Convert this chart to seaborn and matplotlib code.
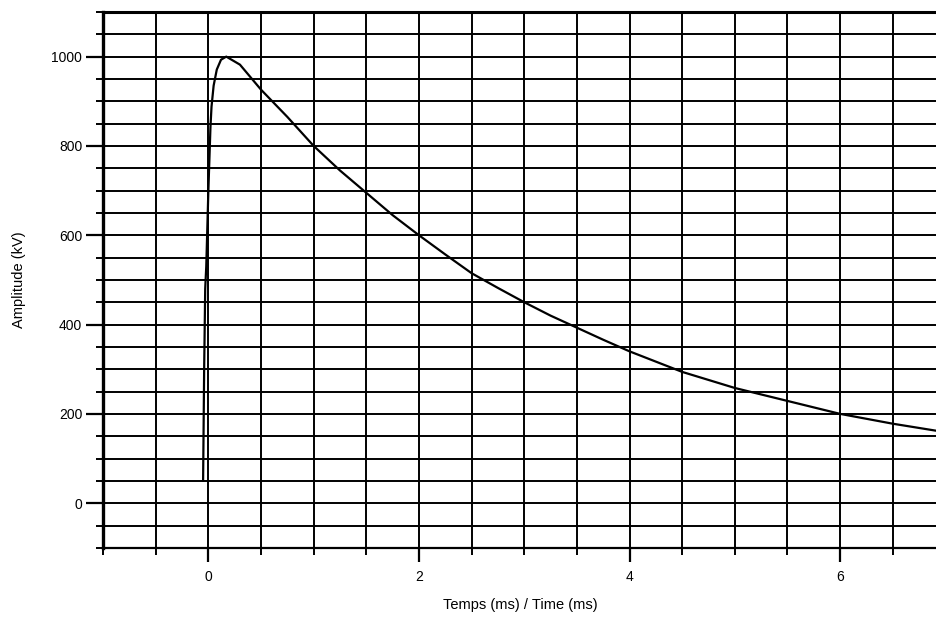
import numpy as np
import pandas as pd
import matplotlib
matplotlib.use("Agg")
import matplotlib.pyplot as plt
from matplotlib.ticker import MultipleLocator, FixedLocator
import seaborn as sns

# Impulse waveform
time_ms = [-0.05, -0.04, -0.03, -0.02, 0.0, 0.02, 0.03, 0.05, 0.08, 0.12, 0.17,
           0.3, 0.5, 0.75, 1.0, 1.25, 1.5, 1.75, 2.0, 2.25, 2.5, 2.75, 3.0,
           3.25, 3.5, 3.75, 4.0, 4.5, 5.0, 5.5, 6.0, 6.5, 6.92]
amplitude_kv = [50, 300, 480, 530, 700, 843, 888, 935, 971, 993, 1000,
                982, 926, 865, 800, 745, 695, 645, 600, 557, 515, 482, 450,
                420, 393, 366, 340, 294, 258, 229, 200, 178, 162]

x_ticks = [0, 2, 4, 6]
y_ticks = [0, 200, 400, 600, 800, 1000]
x_label = "Temps (ms) / Time (ms)"
y_label = "Amplitude (kV)"

sns.set_style("white")
plt.rcParams["font.family"] = ["Liberation Sans", "DejaVu Sans"]

fig = plt.figure(figsize=(9.37, 6.29), dpi=100)
ax = fig.add_axes([0.110, 0.129, 0.890, 0.852])

df = pd.DataFrame({"t": time_ms, "v": amplitude_kv})
sns.lineplot(data=df, x="t", y="v", color="black", linewidth=1.6, ax=ax,
             sort=False, zorder=5)

ax.set_xlim(-1.0, 6.92)
ax.set_ylim(-100, 1100)

ax.xaxis.set_major_locator(FixedLocator(x_ticks))
ax.xaxis.set_minor_locator(MultipleLocator(0.5))
ax.yaxis.set_major_locator(FixedLocator(y_ticks))
ax.yaxis.set_minor_locator(MultipleLocator(50))

ax.grid(True, which="both", color="black", linewidth=1.4)
ax.set_axisbelow(True)

ax.tick_params(axis="x", which="major", direction="out", length=10, width=1.6,
               color="black", labelcolor="black", labelsize=10, pad=6, bottom=True)
ax.tick_params(axis="x", which="minor", direction="out", length=5, width=1.4,
               color="black", bottom=True)
ax.tick_params(axis="y", which="major", direction="out", length=12, width=1.6,
               color="black", labelcolor="black", labelsize=10, pad=3, left=True)
ax.tick_params(axis="y", which="minor", direction="out", length=5, width=1.4,
               color="black", left=True)

for side in ["left", "top", "bottom"]:
    ax.spines[side].set_color("black")
ax.spines["left"].set_linewidth(2.4)
ax.spines["top"].set_linewidth(2.2)
ax.spines["bottom"].set_linewidth(1.6)
ax.spines["right"].set_visible(False)

ax.set_xlabel(x_label, fontsize=10.5, labelpad=10, color="black")
ax.set_ylabel(y_label, fontsize=10.5, labelpad=18, color="black")

fig.savefig("out.png", dpi=100)
